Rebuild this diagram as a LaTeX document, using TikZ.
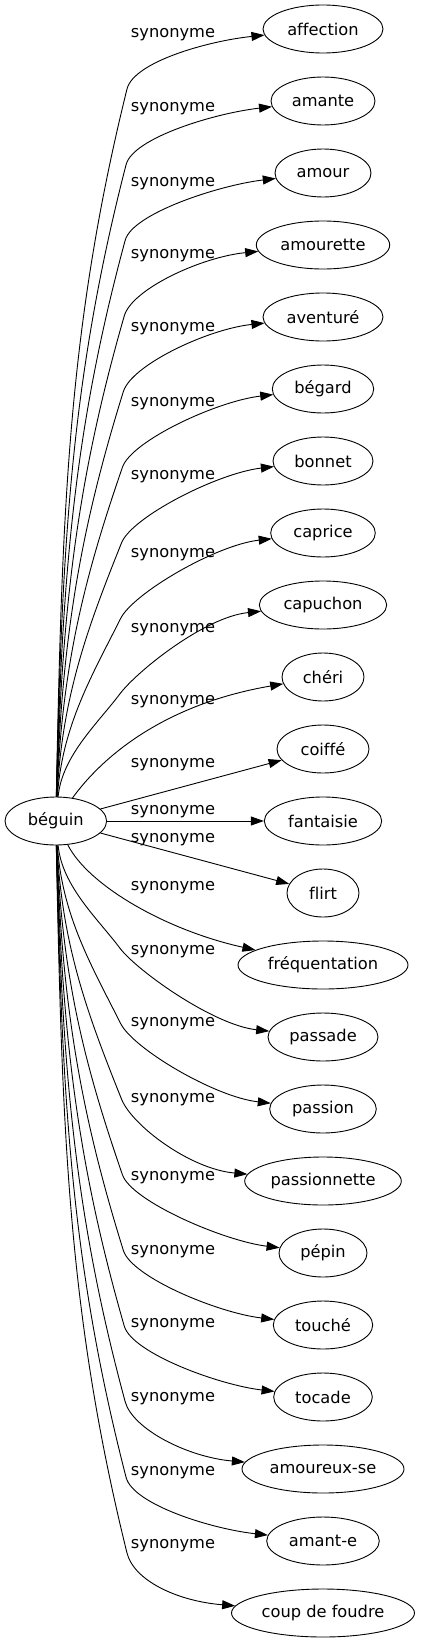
\documentclass[tikz,border=0pt]{standalone}
\usepackage{fontspec}
\setmainfont[Ligatures=NoCommon]{DejaVu Sans}
\usetikzlibrary{shapes.geometric,arrows.meta}
\begin{document}
\begin{tikzpicture}[x=1pt,y=-1pt,
  word/.style={draw, ellipse, line width=0.9pt, inner sep=0pt, minimum height=48pt,
    font=\fontsize{16.25}{19}\selectfont},
  rel/.style={inner sep=0pt, font=\fontsize{16.25}{19}\selectfont},
  link/.style={draw, line width=0.9pt, -{Triangle[length=13pt,width=9pt]}}]
\fill[white] (0,0) rectangle (421,1643);
\useasboundingbox (0,0) rectangle (421,1643);
% nodes
\node[word, minimum width=101.6pt] (beg) at (55.8,821) {béguin};
\node[word, minimum width=120pt]   (n0)  at (323,29)   {affection};
\node[word, minimum width=104pt]   (n1)  at (323,101)  {amante};
\node[word, minimum width=96pt]    (n2)  at (323,173)  {amour};
\node[word, minimum width=133.4pt] (n3)  at (323,245)  {amourette};
\node[word, minimum width=120pt]   (n4)  at (323,317)  {aventuré};
\node[word, minimum width=101.4pt] (n5)  at (323,389)  {bégard};
\node[word, minimum width=100pt]   (n6)  at (323,461)  {bonnet};
\node[word, minimum width=104.6pt] (n7)  at (323,533)  {caprice};
\node[word, minimum width=127.4pt] (n8)  at (323,605)  {capuchon};
\node[word, minimum width=82pt]    (n9)  at (323,677)  {chéri};
\node[word, minimum width=92pt]    (n10) at (323,749)  {coiffé};
\node[word, minimum width=117.4pt] (n11) at (323,821)  {fantaisie};
\node[word, minimum width=72pt]    (n12) at (323,893)  {flirt};
\node[word, minimum width=170pt]   (n13) at (323,965)  {fréquentation};
\node[word, minimum width=110pt]   (n14) at (323,1037) {passade};
\node[word, minimum width=106.6pt] (n15) at (323,1109) {passion};
\node[word, minimum width=156.6pt] (n16) at (323,1181) {passionnette};
\node[word, minimum width=88pt]    (n17) at (323,1253) {pépin};
\node[word, minimum width=99.4pt]  (n18) at (323,1325) {touché};
\node[word, minimum width=98.6pt]  (n19) at (323,1397) {tocade};
\node[word, minimum width=162pt]   (n20) at (323,1469) {amoureux-se};
\node[word, minimum width=112.6pt] (n21) at (323,1541) {amant-e};
\node[word, minimum width=183pt]   (n22) at (323,1613) {coup de foudre};
% labels
\foreach \idx/\L in {0/33,1/107,2/182,3/254,4/327,5/402,6/475,7/553,8/628,9/700,10/763,11/810,12/838,13/886,14/950,15/1022,16/1098,17/1176,18/1250,19/1323,20/1397,21/1471,22/1544}
  \node[rel] (l\idx) at (173,\L+1.5) {synonyme};
% far edges
\foreach \nm/\idx/\rad in {n0/0/60,n1/1/52,n2/2/48,n3/3/66.7,n4/4/60,n5/5/50.7,n6/6/50,n7/7/52.3,n8/8/63.7,n14/14/55,n15/15/53.3,n16/16/78.3,n17/17/44,n18/18/49.7,n19/19/49.3,n20/20/81,n21/21/56.3,n22/22/91.5}{
  \pgfmathsetmacro\yt{29+72*\idx}
  \pgfmathsetmacro\dd{821-\yt}
  \pgfmathsetmacro\ad{abs(\dd)}
  \pgfmathsetmacro\sg{\dd>0 ? 1 : -1}
  \pgfmathsetmacro\off{60+40*(1-\ad/792)}
  \pgfmathsetmacro\yB{\yt+\sg*\off}
  \pgfmathsetmacro\xB{127-10*(1-\ad/792)}
  \pgfmathsetmacro\yo{821-\sg*24}
  \pgfmathsetmacro\dy{abs(\yo-\yB)}
  \pgfmathsetmacro\tx{(\xB-58+0.15*\dy)/\dy}
  \pgfmathsetmacro\nn{sqrt(\tx*\tx+1)}
  \pgfmathsetmacro\ux{\tx/\nn}
  \pgfmathsetmacro\uy{-\sg/\nn}
  \pgfmathsetmacro\cay{\yo-\sg*0.4*\dy}
  \pgfmathsetmacro\cbx{\xB-0.35*\dy*\ux}
  \pgfmathsetmacro\cby{\yB-0.35*\dy*\uy}
  \pgfmathsetmacro\ccx{\xB+28*\ux}
  \pgfmathsetmacro\ccy{\yB+28*\uy}
  \pgfmathsetmacro\cdx{323-\rad-55}
  \pgfmathsetmacro\cdy{\yt+\sg*12}
  \draw[link] (beg) .. controls (62,\cay) and (\cbx,\cby) .. (\xB,\yB)
     .. controls (\ccx,\ccy) and (\cdx,\cdy) .. (\nm);
}
% near edges
\draw[link] (beg) .. controls (100,760) and (160,705) .. (n9);
\draw[link] (beg) -- (n10);
\draw[link] (beg) -- (n11);
\draw[link] (beg) -- (n12);
\draw[link] (beg) .. controls (88,885) and (165,930) .. (n13);
\end{tikzpicture}
\end{document}
